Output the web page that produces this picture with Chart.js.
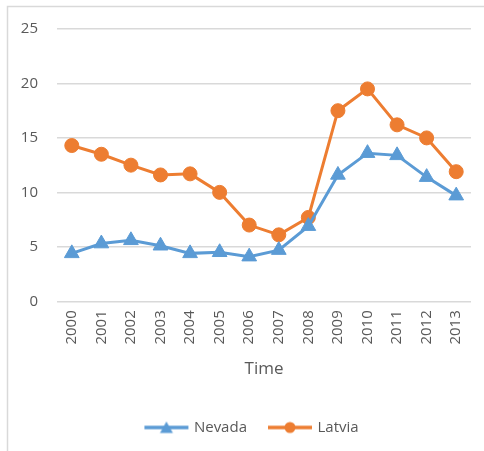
<!DOCTYPE html>
<html>
<head>
<meta charset="utf-8">
<script src="https://cdn.jsdelivr.net/npm/chart.js@4/dist/chart.umd.min.js"></script>
<style>
  html, body { margin: 0; padding: 0; background: #ffffff; }
  #wrap { position: relative; width: 484px; height: 451px; }
</style>
</head>
<body>
<div id="wrap"><canvas id="lineChart" width="484" height="451"></canvas></div>
<script>
// Chart data
const years = ['2000', '2001', '2002', '2003', '2004', '2005', '2006', '2007', '2008', '2009', '2010', '2011', '2012', '2013'];
const nevada = [4.4, 5.3, 5.6, 5.1, 4.4, 4.5, 4.1, 4.7, 6.9, 11.6, 13.6, 13.4, 11.4, 9.7];
const latvia = [14.3, 13.5, 12.5, 11.6, 11.7, 10.0, 7.0, 6.1, 7.7, 17.5, 19.5, 16.2, 15.0, 11.9];
const yTicks = [0, 5, 10, 15, 20, 25];

const blue = '#5b9bd5';
const orange = '#ed7d31';
const textGray = '#595959';
const gridGray = '#d9d9d9';

// Little legend picture: a line with the marker in the middle
function legendIcon(color, shape) {
  var c = document.createElement('canvas');
  c.width = 46;
  c.height = 14;
  var g = c.getContext('2d');
  g.strokeStyle = color;
  g.fillStyle = color;
  g.lineWidth = 3.5;
  g.beginPath();
  g.moveTo(1, 7);
  g.lineTo(45, 7);
  g.stroke();
  g.beginPath();
  if (shape === 'triangle') {
    g.moveTo(23, 1);
    g.lineTo(29.5, 12.5);
    g.lineTo(16.5, 12.5);
    g.closePath();
  } else {
    g.arc(23, 7, 5.5, 0, Math.PI * 2);
  }
  g.fill();
  return c;
}

// Draw the light frame around the chart
const framePlugin = {
  id: 'frame',
  beforeDraw(chart) {
    var ctx = chart.ctx;
    ctx.save();
    ctx.fillStyle = '#ffffff';
    ctx.fillRect(0, 0, chart.width, chart.height);
    ctx.strokeStyle = gridGray;
    ctx.lineWidth = 1.5;
    ctx.beginPath();
    ctx.moveTo(7.5, chart.height);
    ctx.lineTo(7.5, 6.5);
    ctx.lineTo(chart.width, 6.5);
    ctx.stroke();
    ctx.restore();
  },
  // Excel centres the legend a bit to the right of the canvas middle
  afterLayout(chart) {
    if (chart.legend) {
      chart.legend.left += 10;
      chart.legend.right += 10;
    }
  }
};

document.addEventListener('DOMContentLoaded', function () {
  Chart.defaults.font.family = '"Open Sans", sans-serif';
  Chart.defaults.color = textGray;

  var icons = [legendIcon(blue, 'triangle'), legendIcon(orange, 'circle')];

  var ctx = document.getElementById('lineChart').getContext('2d');
  var lineChart = new Chart(ctx, {
    type: 'line',
    data: {
      labels: years,
      datasets: [
        {
          label: 'Nevada',
          data: nevada,
          borderColor: blue,
          backgroundColor: blue,
          borderWidth: 3,
          pointStyle: 'triangle',
          pointRadius: 8.5,
          pointBorderWidth: 1,
          tension: 0
        },
        {
          label: 'Latvia',
          data: latvia,
          borderColor: orange,
          backgroundColor: orange,
          borderWidth: 3,
          pointStyle: 'circle',
          pointRadius: 7,
          pointBorderWidth: 1,
          tension: 0
        }
      ]
    },
    options: {
      responsive: false,
      animation: false,
      layout: {
        padding: { left: 14, right: 13, top: 29, bottom: 6 }
      },
      scales: {
        x: {
          offset: true,
          grid: { display: false, drawTicks: false },
          border: { display: false },
          ticks: {
            font: { size: 15 },
            minRotation: 90,
            maxRotation: 90,
            padding: 9
          },
          title: {
            display: true,
            text: 'Time',
            font: { size: 17 },
            padding: { top: 5, bottom: 18 }
          }
        },
        y: {
          min: 0,
          max: 25,
          afterFit: function (scale) {
            scale.width = 43;
          },
          afterBuildTicks: function (scale) {
            scale.ticks = yTicks.map(function (v) { return { value: v }; });
          },
          grid: { color: gridGray, lineWidth: 1.5, drawTicks: false },
          border: { display: false },
          ticks: {
            font: { size: 15 },
            padding: 19
          }
        }
      },
      plugins: {
        legend: {
          position: 'bottom',
          labels: {
            usePointStyle: true,
            pointStyleWidth: 40,
            font: { size: 15 },
            padding: 23,
            generateLabels: function (chart) {
              return chart.data.datasets.map(function (ds, i) {
                return {
                  text: ds.label,
                  pointStyle: icons[i],
                  fontColor: textGray,
                  datasetIndex: i,
                  hidden: false,
                  lineWidth: 0
                };
              });
            }
          }
        },
        tooltip: { enabled: false }
      }
    },
    plugins: [framePlugin]
  });
});
</script>
</body>
</html>
